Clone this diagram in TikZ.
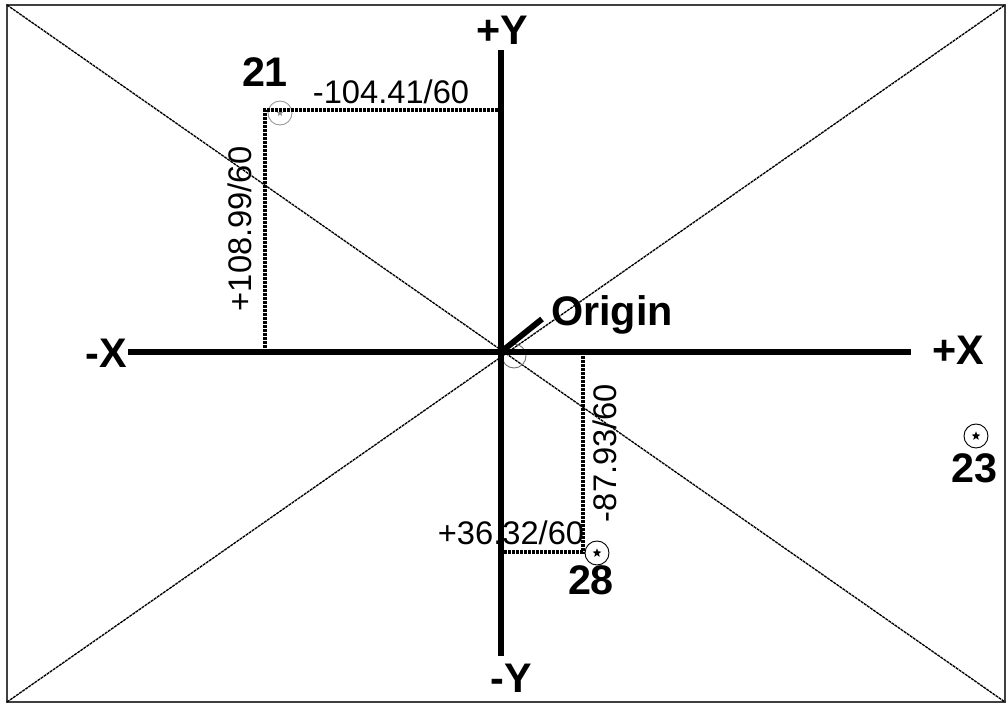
\documentclass[tikz,border=0pt]{standalone}
\usepackage{fontspec}
\setmainfont{Liberation Sans}
\usetikzlibrary{shapes.geometric}
\tikzset{
  axisline/.style={line width=4.4pt},
  offsetline/.style={line width=3.4pt, dash pattern=on 2.6pt off 0.4pt},
  diagline/.style={line width=1pt, dash pattern=on 2.2pt off 0.6pt},
  ptcircle/.style={circle, draw, line width=0.7pt, minimum size=18pt, inner sep=0pt},
  ptstar/.style={star, star points=5, star point ratio=2.4, fill, minimum size=7pt, inner sep=0pt},
  boldlbl/.style={inner sep=0pt, font=\fontsize{31}{33}\selectfont\bfseries},
  numlbl/.style={inner sep=0pt, font=\fontsize{24.5}{26}\selectfont}
}
\begin{document}
\begin{tikzpicture}[x=0.75pt,y=0.75pt,yscale=-1,xscale=1]
			\useasboundingbox (0,0) rectangle (1008,704);
			
			%Frame and diagonals
			\coordinate (tl) at (7,5);
			\coordinate (tr) at (1005,5);
			\coordinate (bl) at (7,702);
			\coordinate (br) at (1005,702);
			\draw [color=black!75, line width=1.2pt] (tl) rectangle (br) ;
			\draw [diagline] (tl) -- (br) ;
			\draw [diagline] (bl) -- (tr) ;
			
			% Text Node
			\node [numlbl] (t104) at (391,92) {-104.41/60};
			% Text Node
			\node [numlbl, rotate=90] (t108) at (240,229) {+108.99/60};
			% Text Node
			\node [numlbl] (t36) at (511,533) {+36.32/60};
			% Text Node
			\node [numlbl, rotate=90] (t87) at (605,453) {-87.93/60};
			
			%Point markers
			\node [ptcircle, draw=black!40] (p21) at (280,113) {};
			\node [ptstar, fill=black!45, minimum size=5.5pt] (s21) at (p21) {};
			\node [ptcircle, draw=black!55] (p0) at (514,356) {};
			\node [ptcircle] (p28) at (597,553) {};
			\node [ptstar] (s28) at (p28) {};
			\node [ptcircle] (p23) at (976,436) {};
			\node [ptstar] (s23) at (p23) {};
			
			%Offset lines
			\coordinate (o) at (501,352);
			\coordinate (c21) at (265,110);
			\coordinate (c28) at (583,552);
			\draw [offsetline] (c21 |- o) -- (c21) -- (c21 -| o) ;
			\draw [offsetline] (c28 |- o) -- (c28) -- (c28 -| o) ;
			
			%Axes
			\coordinate (xl) at (128,352);
			\coordinate (xr) at (911,352);
			\coordinate (yt) at (501,50);
			\coordinate (yb) at (501,656);
			\draw [axisline] (xl) -- (xr) ;
			\draw [axisline] (yt) -- (yb) ;
			
			% Text Node
			\node [boldlbl] (lxm) at (106,353) {-X};
			% Text Node
			\node [boldlbl] (lxp) at (958,350) {+X};
			% Text Node
			\node [boldlbl] (lyp) at (502,30) {+Y};
			% Text Node
			\node [boldlbl] (lym) at (511,678) {-Y};
			
			%Origin pointer
			\node [boldlbl] (lorg) at (612,315) {Origin};
			\coordinate (org) at (542,319);
			\draw [line width=4.4pt] (o) -- (org) ;
			
			% Text Node
			\node [boldlbl] (l21) at (265,72) {21};
			% Text Node
			\node [boldlbl] (l28) at (591,580) {28};
			% Text Node
			\node [boldlbl] (l23) at (974,468) {23};
		\end{tikzpicture}
\end{document}
